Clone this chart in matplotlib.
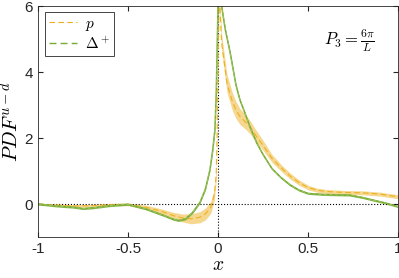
import matplotlib
matplotlib.use("Agg")
import matplotlib.pyplot as plt
import numpy as np

plt.rcParams['mathtext.fontset'] = 'cm'
plt.rcParams['font.family'] = ['Liberation Sans', 'DejaVu Sans']

# data
p_x = [-1.0, -0.9, -0.8, -0.7, -0.6, -0.5, -0.45, -0.4, -0.35, -0.3, -0.25, -0.2, -0.15, -0.1,
       -0.07, -0.04, -0.02, -0.01, -0.005, 0.0, 0.006, 0.02, 0.05, 0.08, 0.1, 0.122, 0.15, 0.178,
       0.2, 0.25, 0.3, 0.35, 0.4, 0.45, 0.5, 0.55, 0.6, 0.7, 0.8, 0.9, 1.0]
p_y = [0.0, -0.03, -0.06, -0.05, -0.02, -0.01, -0.05, -0.1, -0.17, -0.25, -0.35, -0.42, -0.45, -0.4,
       -0.3, -0.1, 0.3, 0.9, 2.0, 4.0, 6.5, 4.9, 3.65, 3.1, 2.85, 2.65, 2.5, 2.33,
       2.15, 1.78, 1.38, 1.1, 0.85, 0.65, 0.5, 0.42, 0.38, 0.35, 0.34, 0.3, 0.22]
p_err = [0.02, 0.03, 0.04, 0.04, 0.04, 0.04, 0.05, 0.06, 0.07, 0.08, 0.1, 0.12, 0.15, 0.17,
         0.18, 0.18, 0.18, 0.18, 0.18, 0.18, 0.2, 0.25, 0.27, 0.27, 0.26, 0.24, 0.22, 0.2,
         0.18, 0.15, 0.12, 0.1, 0.09, 0.08, 0.07, 0.06, 0.06, 0.06, 0.06, 0.06, 0.06]

d_x = [-1.0, -0.9, -0.8, -0.75, -0.7, -0.6, -0.5, -0.45, -0.4, -0.35, -0.3, -0.25, -0.22, -0.18,
       -0.14, -0.1, -0.07, -0.045, -0.03, -0.017, -0.01, -0.005, 0.0, 0.01, 0.02, 0.04, 0.067,
       0.1, 0.122, 0.15, 0.178, 0.215, 0.25, 0.3, 0.35, 0.4, 0.45, 0.5, 0.58, 0.65, 0.73, 0.8,
       0.86, 0.93, 1.0]
d_y = [0.0, -0.06, -0.1, -0.14, -0.12, -0.05, -0.01, -0.08, -0.15, -0.25, -0.35, -0.46, -0.5, -0.45,
       -0.25, 0.05, 0.45, 1.03, 1.6, 2.25, 3.3, 4.6, 6.0, 7.0, 6.0, 5.3, 4.6,
       3.6, 3.15, 2.75, 2.33, 1.85, 1.5, 1.07, 0.8, 0.58, 0.42, 0.32, 0.29, 0.28, 0.27, 0.2,
       0.12, 0.03, -0.08]
d_err = 0.03

orange = '#EDB120'
green = '#77AC30'

fig = plt.figure(figsize=(3.99, 2.78), dpi=100)
ax = fig.add_axes([38/399, 41/278, 360/399, 231/278])

ax.axhline(0, color='k', ls=':', lw=0.8)
ax.axvline(0, color='k', ls=':', lw=0.8)

p_x_a = np.array(p_x); p_y_a = np.array(p_y); p_e = np.array(p_err)
ax.fill_between(p_x_a, p_y_a - p_e, p_y_a + p_e, color=orange, alpha=0.5, lw=0)
ax.plot(p_x_a, p_y_a, color=orange, ls=(0, (5, 3)), lw=0.8, label='$p$')

d_x_a = np.array(d_x); d_y_a = np.array(d_y)
ax.fill_between(d_x_a, d_y_a - d_err, d_y_a + d_err, color=green, alpha=0.8, lw=0)
ax.plot(d_x_a, d_y_a, color=green, lw=1.1)
ax.plot(d_x_a, d_y_a, color='#A8CC78', ls=(0, (5, 3)), lw=0.5)
ax.plot([], [], color=green, ls=(0, (5, 3)), lw=1.0, label='$\\Delta^+$')

ax.set_xlim(-1, 1)
ax.set_ylim(-1, 6)
ax.set_xticks([-1, -0.5, 0, 0.5, 1])
ax.set_xticklabels(['-1', '-0.5', '0', '0.5', '1'])
ax.set_yticks([0, 2, 4, 6])
ax.tick_params(direction='in', top=True, right=True, length=3.5, labelsize=11, colors='#262626')
for s in ax.spines.values():
    s.set_color('#262626')
    s.set_linewidth(0.6)

ax.set_xlabel('$x$', fontsize=14, labelpad=1)
ax.set_ylabel('$PDF^{u-d}$', fontsize=15, labelpad=1)

leg = ax.legend(loc='upper left', fontsize=11, handlelength=1.8, fancybox=False,
                edgecolor='#262626', framealpha=1, borderpad=0.3, labelspacing=0.2,
                handletextpad=0.5, borderaxespad=0, bbox_to_anchor=(0.019, 0.974))
leg.get_frame().set_linewidth(0.6)

ax.text(0.864, 0.848, '$P_3 = \\frac{6\\pi}{L}$', transform=ax.transAxes, fontsize=12,
        ha='center', va='center')

fig.savefig('out.png', dpi=100)
